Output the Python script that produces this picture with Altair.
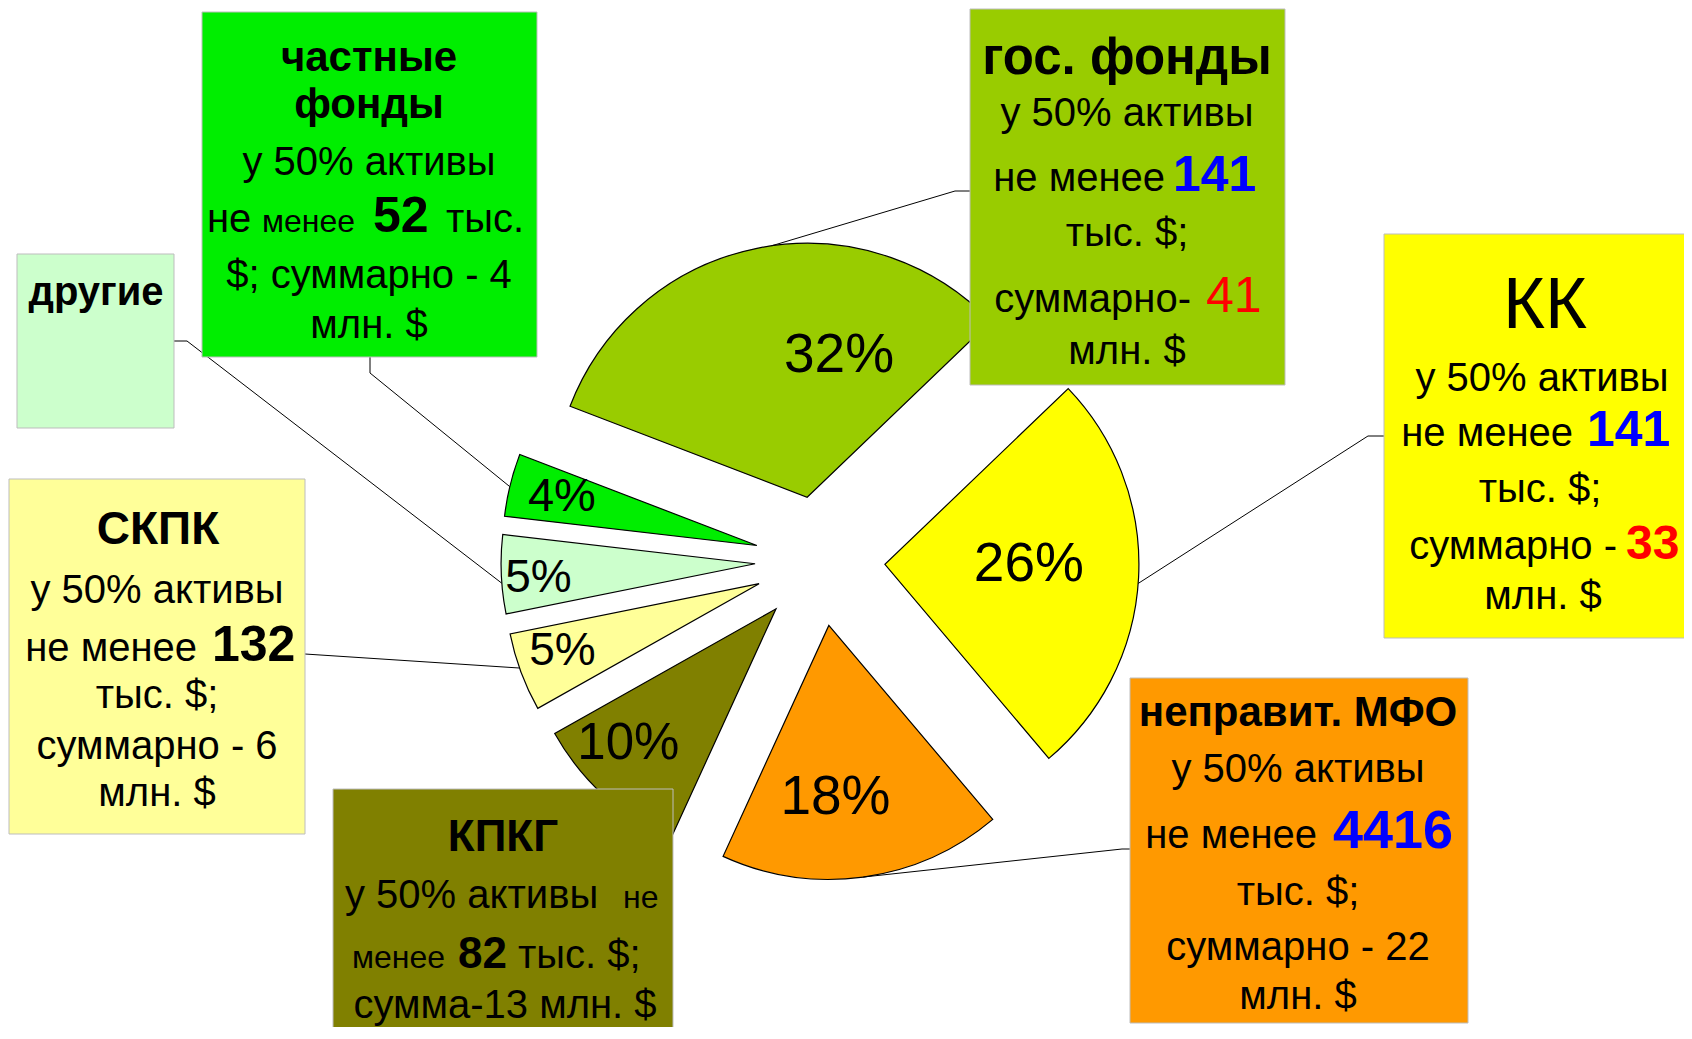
import altair as alt
import pandas as pd

# ---------------- values ----------------
categories = ["гос. фонды", "КК", "неправит. МФО", "КПКГ", "СКПК", "другие", "частные фонды"]
shares = [32, 26, 18, 10, 5, 5, 4]
share_labels = ["32%", "26%", "18%", "10%", "5%", "5%", "4%"]
slice_colors = ["#99CC00", "#FFFF00", "#FF9900", "#808000", "#FFFF99", "#CCFFCC", "#00EE00"]

box_names = ["частные фонды", "другие", "гос. фонды", "КК", "неправит. МФО", "КПКГ", "СКПК"]
box_fills = ["#00EE00", "#CCFFCC", "#99CC00", "#FFFF00", "#FF9900", "#808000", "#FFFF99"]

segment_text = [
    # частные фонды
    "частные", "фонды", "у 50% активы", "не", "менее", "52", "тыс.", "$; суммарно - 4", "млн. $",
    # другие
    "другие",
    # гос. фонды
    "гос. фонды", "у 50% активы", "не менее", "141", "тыс. $;", "суммарно-", "41", "млн. $",
    # КК
    "КК", "у 50% активы", "не менее", "141", "тыс. $;", "суммарно -", "33", "млн. $",
    # неправит. МФО
    "неправит. МФО", "у 50% активы", "не менее", "4416", "тыс. $;", "суммарно - 22", "млн. $",
    # КПКГ
    "КПКГ", "у 50% активы", "не", "менее", "82", "тыс. $;", "сумма-13 млн. $",
    # СКПК
    "СКПК", "у 50% активы", "не менее", "132", "тыс. $;", "суммарно - 6", "млн. $",
]

# ---------------- layout / styles ----------------
FONT = "Liberation Sans"
W, H = 1676, 1019
X_DOMAIN = [8, 8 + W]
Y_DOMAIN = [8, 8 + H]
CX, CY, R, EXPLODE, START_DEG = 820, 561, 254, 65, 291

label_radius = [146, 144, 172, 200, 208, 217, 201]
label_shift = [24, -3, 5.6, 5, 1.4, -1.3, 0.2]
label_size = [55, 55, 55, 51, 46, 46, 47]
anchor_shift = [3.4, 1.3, 0, 0, 1, -2, -0.4]
has_leader = [1, 1, 1, 0, 1, 1, 1]
elbow_x = [955, 1368, 1122, 0, 305, 187, 370]
elbow_y = [191, 436, 849, 0, 654, 341, 373]
end_x = [970, 1384, 1130, 0, 305, 174, 370]
end_y = [191, 436, 849, 0, 654, 341, 357]

box_rects = [
    (202, 12, 537, 357),
    (17, 254, 174, 428),
    (970, 9, 1285, 385),
    (1384, 234, 1700, 638),
    (1130, 678, 1468, 1023),
    (333, 789, 673, 1045),
    (9, 479, 305, 834),
]

styles = {
    "body": (40, "normal", "black"),
    "small": (32, "normal", "black"),
    "num": (50, "bold", "black"),
    "num_s": (44, "bold", "black"),
    "blue": (50, "bold", "#0000FF"),
    "blue_l": (54, "bold", "#0000FF"),
    "red": (50, "normal", "#FF0000"),
    "redb": (48, "bold", "#FF0000"),
    "t42": (42, "bold", "black"),
    "t40": (40, "bold", "black"),
    "t50": (51, "bold", "black"),
    "t44": (44, "bold", "black"),
    "t46": (46, "bold", "black"),
    "kk": (72, "normal", "black"),
}

# (x, baseline y, align, style) parallel to segment_text
segment_layout = [
    (369, 71, "center", "t42"), (369, 118, "center", "t42"), (369, 175, "center", "body"),
    (207, 232, "left", "body"), (262, 232, "left", "small"), (373, 232, "left", "num"),
    (446, 232, "left", "body"), (369, 288, "center", "body"), (369, 338, "center", "body"),

    (96, 305, "center", "t40"),

    (1127, 74, "center", "t50"), (1127, 126, "center", "body"), (1165, 191, "right", "body"),
    (1173, 191, "left", "blue"), (1127, 246, "center", "body"), (1191, 312, "right", "body"),
    (1206, 312, "left", "red"), (1127, 364, "center", "body"),

    (1545, 328, "center", "kk"), (1542, 391, "center", "body"), (1573, 446, "right", "body"),
    (1587, 446, "left", "blue"), (1540, 502, "center", "body"), (1617, 559, "right", "body"),
    (1626, 559, "left", "redb"), (1543, 609, "center", "body"),

    (1298, 726, "center", "t42"), (1298, 782, "center", "body"), (1317, 848, "right", "body"),
    (1333, 848, "left", "blue_l"), (1298, 905, "center", "body"), (1298, 960, "center", "body"),
    (1298, 1009, "center", "body"),

    (503, 851, "center", "t44"), (345, 908, "left", "body"), (623, 908, "left", "small"),
    (352, 968, "left", "small"), (458, 968, "left", "num_s"), (518, 968, "left", "body"),
    (505, 1018, "center", "body"),

    (158, 544, "center", "t46"), (157, 603, "center", "body"), (197, 661, "right", "body"),
    (212, 661, "left", "num"), (157, 708, "center", "body"), (157, 759, "center", "body"),
    (157, 806, "center", "body"),
]

# ---------------- tables ----------------
pie_df = pd.DataFrame({
    "category": categories,
    "share": shares,
    "label": share_labels,
    "color": slice_colors,
    "order": list(range(len(categories))),
    "lab_r": label_radius,
    "lab_d": label_shift,
    "lab_size": label_size,
    "anc_d": anchor_shift,
    "lead": has_leader,
    "ex": elbow_x,
    "ey": elbow_y,
    "bx": end_x,
    "by": end_y,
})

box_df = pd.DataFrame({
    "name": box_names,
    "fill": box_fills,
    "x1": [b[0] for b in box_rects],
    "y1": [b[1] for b in box_rects],
    "x2": [b[2] for b in box_rects],
    "y2": [b[3] for b in box_rects],
})

seg_df = pd.DataFrame({
    "text": segment_text,
    "x": [p[0] for p in segment_layout],
    "y": [p[1] for p in segment_layout],
    "align": [p[2] for p in segment_layout],
    "size": [styles[p[3]][0] for p in segment_layout],
    "weight": [styles[p[3]][1] for p in segment_layout],
    "color": [styles[p[3]][2] for p in segment_layout],
})

xs = alt.Scale(domain=X_DOMAIN, nice=False, zero=False)
ys = alt.Scale(domain=Y_DOMAIN, nice=False, zero=False, reverse=True)

START = START_DEG * 3.141592653589793 / 180

base = (
    alt.Chart(pie_df)
    .transform_window(cum="sum(share)", sort=[alt.SortField(field="order")], frame=[None, 0])
    .transform_joinaggregate(total="sum(share)")
    .transform_calculate(t1=f"{START} + 2*PI*datum.cum/datum.total")
    .transform_calculate(t0="datum.t1 - 2*PI*datum.share/datum.total")
    .transform_calculate(mid="(datum.t0 + datum.t1)/2")
    .transform_calculate(cx=f"{CX} + {EXPLODE}*sin(datum.mid)")
    .transform_calculate(cy=f"{CY} - {EXPLODE}*cos(datum.mid)")
    .transform_calculate(lx="datum.cx + datum.lab_r*sin(datum.mid + datum.lab_d*PI/180)")
    .transform_calculate(ly="datum.cy - datum.lab_r*cos(datum.mid + datum.lab_d*PI/180)")
    .transform_calculate(ax=f"datum.cx + {R}*sin(datum.mid + datum.anc_d*PI/180)")
    .transform_calculate(ay=f"datum.cy - {R}*cos(datum.mid + datum.anc_d*PI/180)")
)

arcs = base.mark_arc(stroke="black", strokeWidth=1.2).encode(
    x=alt.X("cx:Q", scale=xs, axis=None),
    y=alt.Y("cy:Q", scale=ys, axis=None),
    theta=alt.Theta("t0:Q", scale=None, stack=False),
    theta2=alt.Theta2("t1"),
    radius=alt.value(R),
    color=alt.Color("color:N", scale=None),
)

labels = base.mark_text(font=FONT, align="center", baseline="middle", color="black").encode(
    x=alt.X("lx:Q", scale=xs, axis=None),
    y=alt.Y("ly:Q", scale=ys, axis=None),
    text="label:N",
    size=alt.Size("lab_size:Q", scale=None),
)

leaders = base.transform_filter("datum.lead == 1")
lead1 = leaders.mark_rule(color="black", strokeWidth=1).encode(
    x=alt.X("ax:Q", scale=xs, axis=None),
    y=alt.Y("ay:Q", scale=ys, axis=None),
    x2=alt.X2("ex"),
    y2=alt.Y2("ey"),
)
lead2 = leaders.mark_rule(color="black", strokeWidth=1).encode(
    x=alt.X("ex:Q", scale=xs, axis=None),
    y=alt.Y("ey:Q", scale=ys, axis=None),
    x2=alt.X2("bx"),
    y2=alt.Y2("by"),
)

boxes = alt.Chart(box_df).mark_rect(stroke="#BDBDBD", strokeWidth=1).encode(
    x=alt.X("x1:Q", scale=xs, axis=None),
    x2=alt.X2("x2"),
    y=alt.Y("y1:Q", scale=ys, axis=None),
    y2=alt.Y2("y2"),
    color=alt.Color("fill:N", scale=None),
)

text_layers = []
for weight in ["normal", "bold"]:
    for align in ["left", "center", "right"]:
        sub = seg_df[(seg_df["weight"] == weight) & (seg_df["align"] == align)]
        if len(sub) == 0:
            continue
        text_layers.append(
            alt.Chart(sub).mark_text(font=FONT, fontWeight=weight, align=align, baseline="alphabetic").encode(
                x=alt.X("x:Q", scale=xs, axis=None),
                y=alt.Y("y:Q", scale=ys, axis=None),
                text="text:N",
                size=alt.Size("size:Q", scale=None),
                color=alt.Color("color:N", scale=None),
            )
        )

chart = (
    alt.layer(arcs, labels, lead1, lead2, boxes, *text_layers)
    .properties(width=W, height=H, padding=0, autosize=alt.AutoSizeParams(type="none"))
    .configure_view(strokeWidth=0)
)

chart.save("out.html", embed_options={"renderer": "svg", "actions": False})
